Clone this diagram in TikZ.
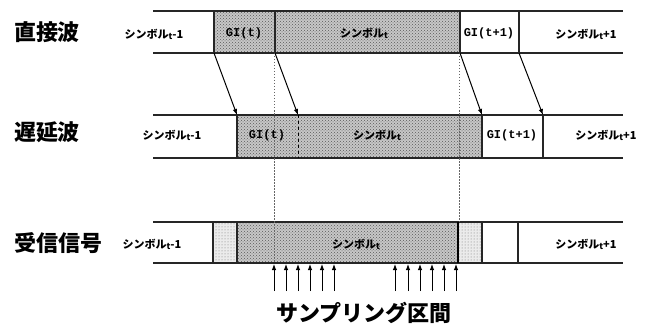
\documentclass[tikz,border=0pt]{standalone}
\usepackage{fontspec}
\usetikzlibrary{patterns,arrows.meta}
\newfontfamily\jp{Noto Sans CJK JP}
\newfontfamily\gifont{Liberation Mono}
\newcommand{\tsub}{\raisebox{-1pt}{\fontsize{8.5}{8.5}\selectfont\itshape t}}
\begin{document}
\begin{tikzpicture}[x=1pt,y=-1pt,
  hl/.style={line width=1.4pt,draw=black!85},
  vl/.style={line width=1.3pt,draw=black!85},
  dots/.style={line width=0.7pt,draw=black!60,dash pattern=on 1.5pt off 1.5pt},
  dense/.style={fill=black!22},
  densepat/.style={pattern=crosshatch dots,pattern color=black!65},
  light/.style={fill=black!8},
  lightpat/.style={pattern=dots,pattern color=black!55},
  arr/.style={line width=1pt,-{Latex[length=6pt,width=4.5pt]}},
  big/.style={font=\jp\bfseries\fontsize{22}{22}\selectfont,inner sep=0pt},
  sym/.style={font=\jp\bfseries\fontsize{11}{11}\selectfont,inner sep=0pt},
  gi/.style={font=\gifont\bfseries\fontsize{12}{12}\selectfont,inner sep=0pt}]
\useasboundingbox (0,0) rectangle (646,329);
% ---------- row 1 ----------
\fill[dense] (214,11) rectangle (460,53);
\fill[densepat] (214,11) rectangle (460,53);
\draw[hl] (153,11) -- (623,11);
\draw[hl] (153,53) -- (623,53);
\foreach \xx in {214,275,460,519} \draw[vl] (\xx,11) -- (\xx,53);
% ---------- row 2 ----------
\fill[dense] (237,115) rectangle (482,158);
\fill[densepat] (237,115) rectangle (482,158);
\draw[hl] (153,115) -- (623,115);
\draw[hl] (153,158) -- (623,158);
\foreach \xx in {237,482,543} \draw[vl] (\xx,115) -- (\xx,158);
\draw[line width=0.9pt,dashed] (298,115) -- (298,158);
% ---------- row 3 ----------
\fill[light] (213,222) rectangle (237,263);
\fill[lightpat] (213,222) rectangle (237,263);
\fill[dense] (237,222) rectangle (458,263);
\fill[densepat] (237,222) rectangle (458,263);
\fill[light] (458,222) rectangle (482,263);
\fill[lightpat] (458,222) rectangle (482,263);
\draw[hl] (153,222) -- (623,222);
\draw[hl] (153,263) -- (623,263);
\foreach \xx in {213,237,482,518} \draw[vl] (\xx,222) -- (\xx,263);
\draw[line width=1.6pt] (458,222) -- (458,263);
% ---------- dotted guides ----------
\coordinate (g1t) at (274,53); \coordinate (g1b) at (274,263);
\coordinate (g2t) at (459,53); \coordinate (g2b) at (459,222);
\draw[dots] (g1t) -- (g1b);
\draw[dots] (g2t) -- (g2b);
% ---------- delay arrows ----------
\coordinate (a1) at (214,53); \coordinate (b1) at (237,115);
\coordinate (a2) at (275,53); \coordinate (b2) at (298,115);
\coordinate (a3) at (460,53); \coordinate (b3) at (482,115);
\coordinate (a4) at (519,53); \coordinate (b4) at (543,115);
\foreach \i in {1,2,3,4} \draw[arr] (a\i) -- (b\i);
% ---------- sampling arrows ----------
\foreach \xx [count=\k] in {274,286,298,310,322,334,395,408,420,432,444,456} {
  \coordinate (s\k) at (\xx,291);
  \coordinate (e\k) at (\xx,264);
  \draw[arr] (s\k) -- (e\k);
}
% ---------- labels ----------
\node[big] (L1) at (47,32) {直接波};
\node[big] (L2) at (47,132) {遅延波};
\node[big] (L3) at (59,243) {受信信号};
\node[sym] (r1a) at (154,34) {シンボル\tsub-1};
\node[gi]  (r1b) at (244,33) {GI(t)};
\node[sym] (r1c) at (364,33) {シンボル\tsub};
\node[gi]  (r1d) at (489,33) {GI(t+1)};
\node[sym] (r1e) at (586,34) {シンボル\tsub+1};
\node[sym] (r2a) at (172,135) {シンボル\tsub-1};
\node[gi]  (r2b) at (267,135) {GI(t)};
\node[sym] (r2c) at (377,135) {シンボル\tsub};
\node[gi]  (r2d) at (512,135) {GI(t+1)};
\node[sym] (r2e) at (606,135) {シンボル\tsub+1};
\node[sym] (r3a) at (152,244) {シンボル\tsub-1};
\node[sym] (r3c) at (356,244) {シンボル\tsub};
\node[sym] (r3e) at (586,244) {シンボル\tsub+1};
\node[big] (samp) at (364,313) {サンプリング区間};
\end{tikzpicture}
\end{document}
